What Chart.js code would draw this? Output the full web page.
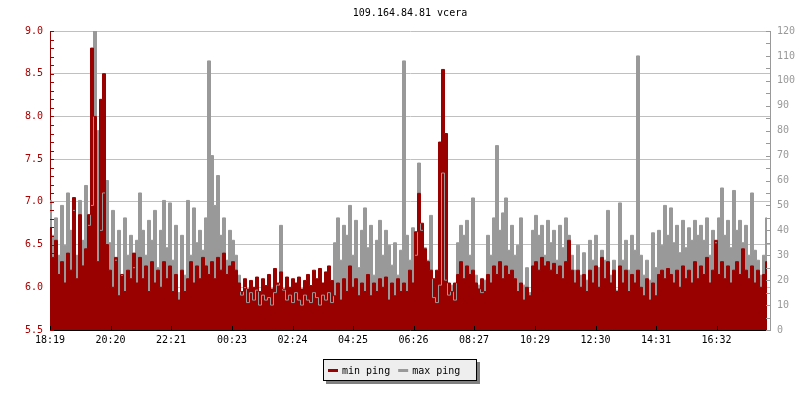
<!DOCTYPE html>
<html>
<head>
<meta charset="utf-8">
<title>109.164.84.81 vcera</title>
<script src="https://cdn.jsdelivr.net/npm/chart.js@4/dist/chart.umd.min.js"></script>
<style>
    html, body { margin: 0; padding: 0; background: #fff; }
    #wrap { width: 800px; height: 400px; }
</style>
</head>
<body>
<div id="wrap"><canvas id="pingChart" width="800" height="400"></canvas></div>
<script>
// one sample every 6 minutes, first one at 18:19
var startTime = '18:19';
var stepMinutes = 6;

// min ping (left axis)
var minPing = [
    6.70, 6.35, 6.55, 6.15, 6.30, 6.05, 6.40, 6.20, 7.05, 6.10, 6.85, 6.25, 6.45, 6.85,
    8.80, 8.00, 6.30, 8.20, 8.50, 6.50,
    6.20, 6.00, 6.35, 5.90, 6.15, 5.95, 6.20, 6.10, 6.40, 6.05,
    6.35, 6.10, 6.25, 5.95, 6.30, 6.05, 6.20, 6.00, 6.30, 6.10, 6.25, 5.95, 6.15, 5.85, 6.20, 5.95,
    6.10, 6.30, 6.05, 6.25, 6.10, 6.35, 6.25, 6.15, 6.30, 6.10, 6.35, 6.20, 6.40, 6.15, 6.25, 6.30,
    6.20, 6.05, 5.95, 6.10, 5.98, 6.08, 6.00, 6.12, 5.95, 6.10, 6.02, 6.15, 5.98, 6.22, 6.05, 6.18,
    5.98, 6.12, 6.00, 6.10, 6.05, 6.12, 5.98, 6.08, 6.15, 6.02, 6.20, 6.10, 6.22, 6.05, 6.18, 6.25, 6.08,
    5.90, 6.05, 5.85, 6.10, 5.95, 6.25, 6.00, 6.10, 5.90, 6.05, 5.95, 6.15, 5.90, 6.05, 5.95, 6.10,
    6.00, 6.12, 5.85, 6.05, 5.90, 6.10, 5.95, 6.05, 5.95, 6.20, 6.05, 6.65, 7.10, 6.75, 6.45, 6.30,
    6.20, 6.10, 6.20, 7.70, 8.55, 7.80, 6.05, 5.95, 6.05, 6.15, 6.30, 6.10, 6.25, 6.15, 6.20, 6.05,
    5.98, 6.10, 5.95, 6.15, 6.05, 6.25, 6.15, 6.30, 6.10, 6.25, 6.15, 6.20, 6.10,
    5.95, 6.05, 5.85, 6.00, 5.90, 6.25, 6.30, 6.20, 6.35, 6.25, 6.30, 6.20, 6.28, 6.15, 6.25, 6.10,
    6.30, 6.55, 6.20, 6.05, 6.20, 6.00, 6.15, 5.95, 6.20, 6.05, 6.25, 6.00, 6.35, 6.10, 6.30, 6.05,
    6.20, 5.95, 6.25, 6.05, 6.20, 5.95, 6.15, 6.05, 6.20, 6.00, 5.90, 6.10, 5.85, 6.05, 5.90, 6.15,
    6.20, 6.10, 6.22, 6.15, 6.05, 6.20, 6.00, 6.25, 6.10, 6.20, 6.05, 6.30, 6.10, 6.25, 6.15, 6.35,
    6.05, 6.20, 6.55, 6.15, 6.30, 6.10, 6.25, 6.05, 6.20, 6.30, 6.15, 6.45, 6.20, 6.10, 6.25, 6.05,
    6.20, 6.00, 6.15, 6.30
];

// max ping (right axis, ms)
var maxPing = [
    52, 38, 45, 30, 50, 34, 55, 40, 48, 30, 52, 36, 58, 42,
    50, 120, 80, 40, 55, 60,
    35, 48, 28, 40, 22, 45, 30, 38, 25, 36,
    55, 40, 30, 44, 36, 48, 25, 40, 52, 33, 51, 28, 42, 15, 38, 22,
    52, 30, 49, 35, 40, 32, 45, 108, 70, 50, 62, 38, 45, 28, 40, 36,
    30, 22, 14, 17, 11, 15, 12, 16, 10, 14, 12, 13, 10, 15, 18, 42,
    16, 12, 14, 11, 15, 12, 10, 14, 12, 11, 15, 13, 10, 14, 12, 15, 11,
    35, 45, 28, 42, 38, 50, 30, 44, 25, 40, 49, 33, 42, 22, 36, 44,
    30, 40, 34, 26, 35, 22, 32, 108, 38, 28, 41, 30, 67, 40, 33, 28,
    46, 13, 11, 18, 63, 20, 14, 18, 12, 35, 42, 38, 44, 30, 53, 22,
    18, 15, 20, 38, 30, 45, 74, 40, 47, 53, 32, 42, 30,
    34, 45, 18, 25, 15, 40, 46, 38, 42, 30, 44, 35, 40, 28, 42, 33,
    45, 38, 30, 24, 34, 22, 31, 20, 36, 28, 38, 25, 32, 28, 48, 22,
    28, 16, 51, 28, 36, 24, 38, 32, 110, 30, 22, 28, 20, 39, 25, 40,
    34, 50, 38, 49, 35, 42, 31, 44, 33, 41, 36, 44, 38, 42, 36, 45,
    30, 40, 35, 45, 57, 38, 44, 33, 56, 40, 44, 35, 42, 30, 55, 32,
    28, 22, 30, 45
];

var timeLabels = ['18:19', '20:20', '22:21', '00:23', '02:24', '04:25',
                  '06:26', '08:27', '10:29', '12:30', '14:31', '16:32'];

var leftMin = 5.5, leftMax = 9.0, leftStep = 0.5, leftMinorStep = 0.1;
var rightMin = 0, rightMax = 120, rightStep = 10, rightMinorStep = 5;
var dayMinutes = 1440;

function toMinutes(hhmm) {
    var p = hhmm.split(':');
    return parseInt(p[0], 10) * 60 + parseInt(p[1], 10);
}
var startMin = toMinutes(startTime);
var tickMinutes = timeLabels.map(function (t) {
    return (toMinutes(t) - startMin + dayMinutes) % dayMinutes;
});

var FONT = '"DejaVu Sans Mono", monospace';
var RED = '#990000';
var GREY = '#999999';

// inward tick marks, drawn over the data like the original
var axisMarks = {
    id: 'axisMarks',
    afterDatasetsDraw: function (chart) {
        var ctx = chart.ctx, a = chart.chartArea;
        var sx = chart.scales.x, sy = chart.scales.y, sy1 = chart.scales.y1;
        var i, p;
        ctx.save();
        ctx.lineWidth = 1;

        ctx.strokeStyle = '#000';
        ctx.beginPath();
        tickMinutes.forEach(function (m) {
            p = Math.round(sx.getPixelForValue(m)) + 0.5;
            ctx.moveTo(p, a.bottom - 4);
            ctx.lineTo(p, a.bottom);
        });
        ctx.stroke();

        ctx.strokeStyle = RED;
        ctx.beginPath();
        var nLeft = Math.round((leftMax - leftMin) / leftMinorStep);
        for (i = 0; i <= nLeft; i++) {
            p = Math.round(sy.getPixelForValue(leftMin + i * leftMinorStep)) + 0.5;
            ctx.moveTo(a.left, p);
            ctx.lineTo(a.left + 4, p);
        }
        ctx.stroke();

        ctx.strokeStyle = GREY;
        ctx.beginPath();
        for (i = rightMin; i <= rightMax; i += rightMinorStep) {
            p = Math.round(sy1.getPixelForValue(i)) + 0.5;
            ctx.moveTo(a.right - 4, p);
            ctx.lineTo(a.right, p);
        }
        ctx.stroke();
        ctx.restore();
    }
};

// boxed legend with drop shadow under the plot
var boxLegend = {
    id: 'boxLegend',
    afterDraw: function (chart) {
        var ctx = chart.ctx;
        var sets = chart.data.datasets;
        ctx.save();
        ctx.font = '10px ' + FONT;
        var padL = 5, padR = 17, sample = 10, gap = 4, between = 8;
        var w = padL + padR;
        sets.forEach(function (d, i) {
            w += sample + gap + ctx.measureText(d.label).width + (i ? between : 0);
        });
        w = Math.round(w);
        var bx = Math.round(400 - w / 2), by = 359, bh = 22;

        ctx.fillStyle = '#808080';
        ctx.fillRect(bx + 3, by + 3, w, bh);
        ctx.fillStyle = '#eeeeee';
        ctx.fillRect(bx, by, w, bh);
        ctx.strokeStyle = '#000';
        ctx.lineWidth = 1;
        ctx.strokeRect(bx + 0.5, by + 0.5, w - 1, bh - 1);

        var cx = bx + padL, cy = by + bh / 2;
        ctx.textBaseline = 'middle';
        sets.forEach(function (d, i) {
            if (i) cx += between;
            ctx.fillStyle = d.borderColor;
            ctx.fillRect(cx, Math.round(cy) - 1, sample, 3);
            cx += sample + gap;
            ctx.fillStyle = '#000';
            ctx.fillText(d.label, cx, cy + 1);
            cx += ctx.measureText(d.label).width;
        });
        ctx.restore();
    }
};

function points(arr) {
    return arr.map(function (v, i) { return { x: i * stepMinutes, y: v }; });
}

// fills are painted first (grey, then red), lines after, so the grey
// max line stays visible where it dips below the red min area
new Chart(document.getElementById('pingChart').getContext('2d'), {
    type: 'line',
    data: {
        datasets: [{
            label: 'min ping',
            data: points(minPing),
            yAxisID: 'y',
            borderColor: RED,
            backgroundColor: RED,
            borderWidth: 1,
            pointRadius: 0,
            stepped: 'middle',
            fill: 'start',
            order: 0
        }, {
            label: 'max ping',
            data: points(maxPing),
            yAxisID: 'y1',
            borderColor: GREY,
            backgroundColor: GREY,
            borderWidth: 1,
            pointRadius: 0,
            stepped: 'middle',
            fill: 'start',
            order: 1
        }]
    },
    options: {
        responsive: false,
        animation: false,
        events: [],
        layout: { padding: 0 },
        plugins: {
            legend: { display: false },
            tooltip: { enabled: false },
            filler: { drawTime: 'beforeDatasetsDraw' },
            title: {
                display: true,
                text: '109.164.84.81 vcera',
                fullSize: false,
                color: '#000',
                font: { family: FONT, size: 10, weight: 'normal' },
                padding: { top: 7, bottom: 12 }
            }
        },
        scales: {
            x: {
                type: 'linear',
                min: 0,
                max: dayMinutes,
                afterBuildTicks: function (scale) {
                    scale.ticks = tickMinutes.map(function (m) { return { value: m }; });
                },
                afterFit: function (scale) { scale.height = 70; },
                ticks: {
                    autoSkip: false,
                    maxRotation: 0,
                    padding: 4,
                    color: '#000',
                    font: { family: FONT, size: 10 },
                    callback: function (value) {
                        var i = tickMinutes.indexOf(value);
                        return i >= 0 ? timeLabels[i] : '';
                    }
                },
                grid: { display: false, drawTicks: false },
                border: { display: true, color: '#000', width: 1 }
            },
            y: {
                position: 'left',
                min: leftMin,
                max: leftMax,
                afterFit: function (scale) { scale.width = 50; },
                ticks: {
                    stepSize: leftStep,
                    padding: 7,
                    color: '#aa0000',
                    font: { family: FONT, size: 10 },
                    callback: function (v) { return v.toFixed(1); }
                },
                grid: { color: '#c0c0c0', lineWidth: 1, drawTicks: false },
                border: { display: true, color: RED, width: 1 }
            },
            y1: {
                position: 'right',
                min: rightMin,
                max: rightMax,
                afterFit: function (scale) { scale.width = 30; },
                ticks: {
                    stepSize: rightStep,
                    padding: 7,
                    color: GREY,
                    font: { family: FONT, size: 10 }
                },
                grid: { drawOnChartArea: false, drawTicks: false },
                border: { display: true, color: GREY, width: 1 }
            }
        }
    },
    plugins: [axisMarks, boxLegend]
});
</script>
</body>
</html>
